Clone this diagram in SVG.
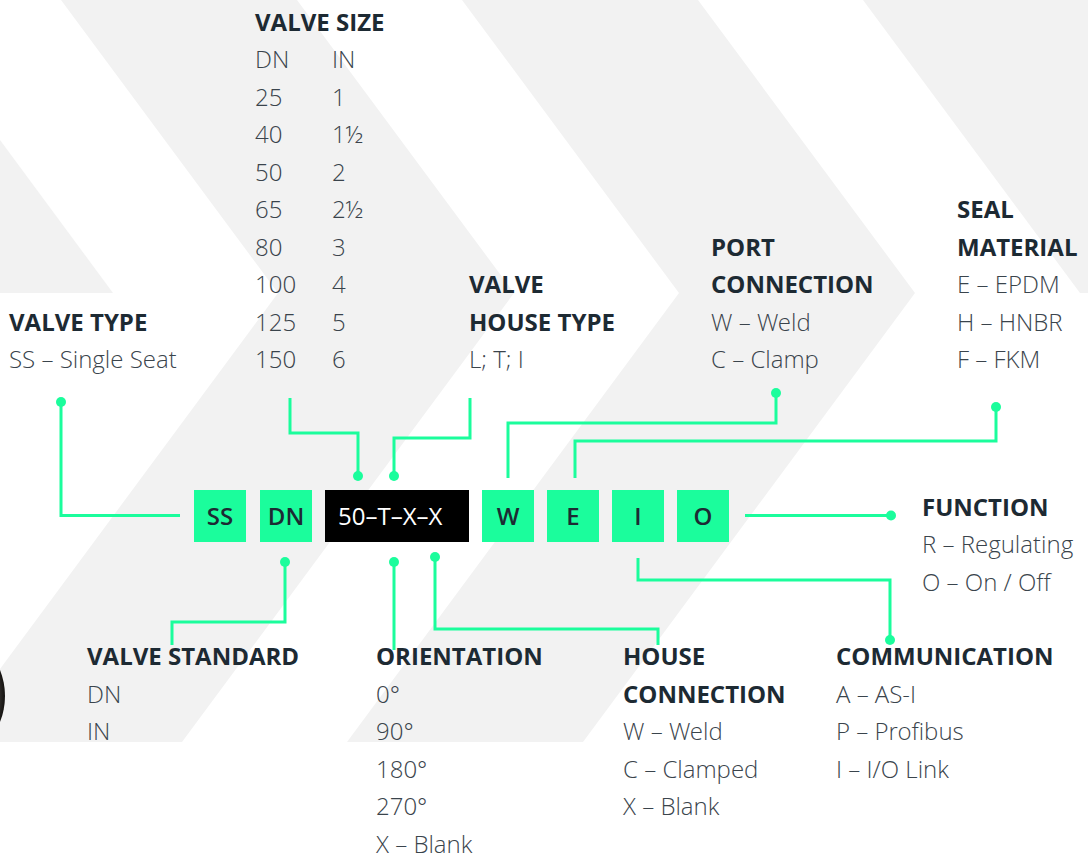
<svg xmlns="http://www.w3.org/2000/svg" width="1088" height="866" viewBox="0 0 1088 866">
<defs>
<radialGradient id="ring" cx="0.5" cy="0.5" r="0.5">
<stop offset="0.8" stop-color="#5a5652"/>
<stop offset="1" stop-color="#141210"/>
</radialGradient>
</defs>
<style>
.bg{fill:#f2f2f2}
.h{font-family:"Open Sans","Liberation Sans",sans-serif;font-weight:700;font-size:24px;fill:#1d2a33}
.t{font-family:"Open Sans Light","Open Sans","Liberation Sans",sans-serif;font-weight:300;font-size:24px;fill:#3a444c}
.box{fill:#1bfd9c}
.bk{fill:#000}
.bt{font-family:"Open Sans","Liberation Sans",sans-serif;font-weight:600;font-size:24px;fill:#1d2a33;text-anchor:middle}
.wt{font-family:"Open Sans","Liberation Sans",sans-serif;font-weight:400;font-size:24px;fill:#fff}
.ln{fill:none;stroke:#1bfd9c;stroke-width:3}
.dot{fill:#1bfd9c}
</style>
<rect width="1088" height="866" fill="#fff"/>
<g id="background">
<polygon class="bg" points="0,140 113,293 0,293"/>
<polygon class="bg" points="61,0 297,0 514,293 182,742 -54,742 278,293"/>
<polygon class="bg" points="462,0 698,0 915,293 583,742 347,742 679,293"/>
<polygon class="bg" points="863,0 1099,0 1316,293 1080,293"/>
<circle cx="-65" cy="696" r="70" fill="url(#ring)"/>
</g>
<g id="connectors">
<path class="ln" d="M61,402 V515.5 H180"/>
<circle class="dot" cx="61" cy="402" r="5"/>
<path class="ln" d="M290,398 V433 H358 V476"/>
<circle class="dot" cx="358" cy="476" r="5"/>
<path class="ln" d="M470,398 V438 H394 V476"/>
<circle class="dot" cx="394" cy="476" r="5"/>
<path class="ln" d="M776,393 V423 H508 V478"/>
<circle class="dot" cx="776" cy="393" r="5"/>
<path class="ln" d="M996,407 V441 H575 V478"/>
<circle class="dot" cx="996" cy="407" r="5"/>
<path class="ln" d="M745,515.5 H891"/>
<circle class="dot" cx="891" cy="515.5" r="5"/>
<path class="ln" d="M638,558 V580 H890 V640"/>
<circle class="dot" cx="890" cy="640" r="5"/>
<path class="ln" d="M435,557 V629 H658 V645"/>
<circle class="dot" cx="435" cy="557" r="5"/>
<path class="ln" d="M394,562 V650"/>
<circle class="dot" cx="394" cy="562" r="5"/>
<path class="ln" d="M285,562 V622 H172 V645"/>
<circle class="dot" cx="285" cy="562" r="5"/>
</g>
<g id="code-ss"><rect class="box" x="194" y="490" width="52" height="52"/><text class="bt" x="220" y="525">SS</text></g>
<g id="code-dn"><rect class="box" x="260" y="490" width="52" height="52"/><text class="bt" x="286" y="525">DN</text></g>
<g id="code-size"><rect class="bk" x="325" y="490" width="144" height="52"/><text class="wt" x="338" y="525">50–T–X–X</text></g>
<g id="code-w"><rect class="box" x="482" y="490" width="52" height="52"/><text class="bt" x="508" y="525">W</text></g>
<g id="code-e"><rect class="box" x="547" y="490" width="52" height="52"/><text class="bt" x="573" y="525">E</text></g>
<g id="code-i"><rect class="box" x="612" y="490" width="52" height="52"/><text class="bt" x="638" y="525">I</text></g>
<g id="code-o"><rect class="box" x="677" y="490" width="52" height="52"/><text class="bt" x="703" y="525">O</text></g>
<g id="valve-type">
<text class="h" x="9" y="330.5">VALVE TYPE</text>
<text class="t" x="9" y="368">SS – Single Seat</text>
</g>
<g id="valve-size">
<text class="h" x="255" y="30.5">VALVE SIZE</text>
<text class="t" x="255" y="68">DN</text><text class="t" x="332" y="68">IN</text>
<text class="t" x="255" y="105.5">25</text><text class="t" x="332" y="105.5">1</text>
<text class="t" x="255" y="143">40</text><text class="t" x="332" y="143">1½</text>
<text class="t" x="255" y="180.5">50</text><text class="t" x="332" y="180.5">2</text>
<text class="t" x="255" y="218">65</text><text class="t" x="332" y="218">2½</text>
<text class="t" x="255" y="255.5">80</text><text class="t" x="332" y="255.5">3</text>
<text class="t" x="255" y="293">100</text><text class="t" x="332" y="293">4</text>
<text class="t" x="255" y="330.5">125</text><text class="t" x="332" y="330.5">5</text>
<text class="t" x="255" y="368">150</text><text class="t" x="332" y="368">6</text>
</g>
<g id="valve-house-type">
<text class="h" x="469" y="293">VALVE</text>
<text class="h" x="469" y="330.5">HOUSE TYPE</text>
<text class="t" x="469" y="368">L; T; I</text>
</g>
<g id="port-connection">
<text class="h" x="711" y="255.5">PORT</text>
<text class="h" x="711" y="293">CONNECTION</text>
<text class="t" x="711" y="330.5">W – Weld</text>
<text class="t" x="711" y="368">C – Clamp</text>
</g>
<g id="seal-material">
<text class="h" x="957" y="218">SEAL</text>
<text class="h" x="957" y="255.5">MATERIAL</text>
<text class="t" x="957" y="293">E – EPDM</text>
<text class="t" x="957" y="330.5">H – HNBR</text>
<text class="t" x="957" y="368">F – FKM</text>
</g>
<g id="function">
<text class="h" x="922" y="515.5">FUNCTION</text>
<text class="t" x="922" y="553">R – Regulating</text>
<text class="t" x="922" y="590.5">O – On / Off</text>
</g>
<g id="valve-standard">
<text class="h" x="87" y="665">VALVE STANDARD</text>
<text class="t" x="87" y="702.5">DN</text>
<text class="t" x="87" y="740">IN</text>
</g>
<g id="orientation">
<text class="h" x="376" y="665">ORIENTATION</text>
<text class="t" x="376" y="702.5">0°</text>
<text class="t" x="376" y="740">90°</text>
<text class="t" x="376" y="777.5">180°</text>
<text class="t" x="376" y="815">270°</text>
<text class="t" x="376" y="852.5">X – Blank</text>
</g>
<g id="house-connection">
<text class="h" x="623" y="665">HOUSE</text>
<text class="h" x="623" y="702.5">CONNECTION</text>
<text class="t" x="623" y="740">W – Weld</text>
<text class="t" x="623" y="777.5">C – Clamped</text>
<text class="t" x="623" y="815">X – Blank</text>
</g>
<g id="communication">
<text class="h" x="836" y="665">COMMUNICATION</text>
<text class="t" x="836" y="702.5">A – AS-I</text>
<text class="t" x="836" y="740">P – Profibus</text>
<text class="t" x="836" y="777.5">I – I/O Link</text>
</g>
</svg>
